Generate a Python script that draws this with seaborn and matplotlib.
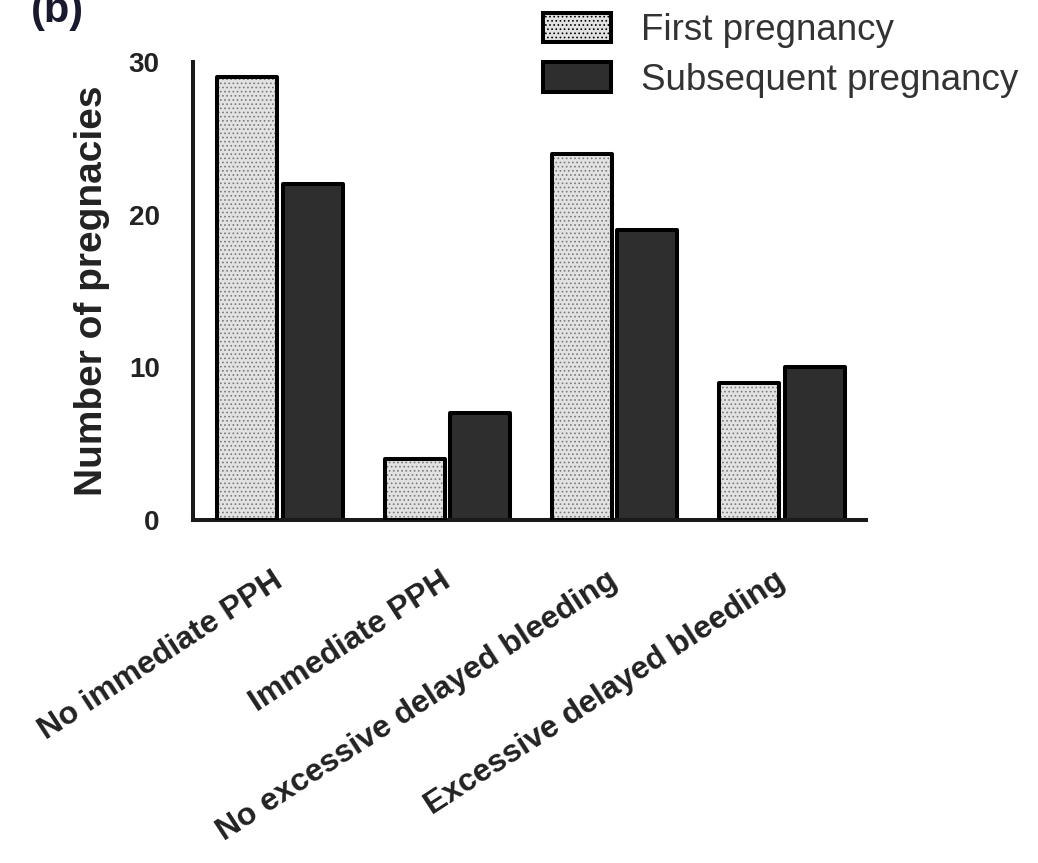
import matplotlib
matplotlib.use("Agg")
import matplotlib.pyplot as plt
import matplotlib.patches as mpatches
import matplotlib.transforms as mtransforms
import seaborn as sns
import pandas as pd

# Outcome categories and counts per pregnancy group
outcomes = [
    "No immediate PPH",
    "Immediate PPH",
    "No excessive delayed bleeding",
    "Excessive delayed bleeding",
]
first_pregnancy = [29, 4, 24, 9]
subsequent_pregnancy = [22, 7, 19, 10]
groups = ["First pregnancy", "Subsequent pregnancy"]
y_ticks = [0, 10, 20, 30]

df = pd.DataFrame({
    "outcome": outcomes * 2,
    "count": first_pregnancy + subsequent_pregnancy,
    "pregnancy": [groups[0]] * len(outcomes) + [groups[1]] * len(outcomes),
})

sns.set_style("white")
plt.rcParams["font.family"] = ["Liberation Sans", "DejaVu Sans"]
plt.rcParams["hatch.linewidth"] = 0.7

LIGHT = "#e2e2e2"
DARK = "#2e2e2e"
EDGE_LW = 2.9
HATCH_COLOR = "#7a7a7a"
has_hatchcolor = hasattr(mpatches.Patch, "set_hatchcolor")

fig = plt.figure(figsize=(10.38, 8.63), dpi=100)
ax = fig.add_axes([0.186, 0.3975, 0.648, 0.5307])

sns.barplot(
    data=df, x="outcome", y="count", hue="pregnancy",
    palette=[LIGHT, DARK], edgecolor="black", linewidth=EDGE_LW,
    width=0.78, gap=0.08, legend=False, ax=ax, zorder=2,
)

# Dotted texture on the first-pregnancy bars
for bar in ax.containers[0]:
    bar.set_joinstyle("round")
    if has_hatchcolor:
        bar.set_hatch("....")
        bar.set_hatchcolor(HATCH_COLOR)
    else:
        overlay = mpatches.Rectangle(
            bar.get_xy(), bar.get_width(), bar.get_height(),
            fill=False, hatch="....", edgecolor=HATCH_COLOR,
            linewidth=0, zorder=2.5,
        )
        ax.add_patch(overlay)
        bar.set_zorder(3)
        bar.set_facecolor("none")
        base = mpatches.Rectangle(
            bar.get_xy(), bar.get_width(), bar.get_height(),
            facecolor=LIGHT, linewidth=0, zorder=1.9,
        )
        ax.add_patch(base)
for bar in ax.containers[1]:
    bar.set_joinstyle("round")

ax.set_xlim(-0.52, 3.5)
ax.set_ylim(0, 30)
ax.set_yticks(y_ticks)
sns.despine(ax=ax)
for side in ("left", "bottom"):
    ax.spines[side].set_linewidth(EDGE_LW)
    ax.spines[side].set_color("#1a1a1a")

ax.tick_params(axis="y", direction="out", length=8, width=EDGE_LW,
               pad=16, labelsize=20, color="#1a1a1a")
ax.tick_params(axis="x", direction="out", length=8, width=2.2,
               pad=34, color="#1a1a1a")
for lab in ax.get_yticklabels():
    lab.set_fontweight("bold")
    lab.set_color("#222222")

ax.set_xticks(range(len(outcomes)))
ax.set_xticklabels(outcomes, rotation=33, ha="right", va="center",
                   rotation_mode="anchor", fontsize=23, fontweight="bold",
                   color="#222222")
shift = mtransforms.ScaledTranslation(0, 0, fig.dpi_scale_trans)
for lab in ax.get_xticklabels():
    lab.set_transform(lab.get_transform() + shift)

ax.set_xlabel("")
ax.set_ylabel("Number of pregnacies", fontsize=28, fontweight="bold",
              color="#222222")
ax.yaxis.set_label_coords(-0.123, 0.5)

# Legend in the upper right
hatch_kw = {"hatchcolor": HATCH_COLOR} if has_hatchcolor else {}
handles = [
    mpatches.Patch(facecolor=LIGHT, edgecolor="black", hatch="....",
                   linewidth=EDGE_LW, joinstyle="round", **hatch_kw),
    mpatches.Patch(facecolor=DARK, edgecolor="black", linewidth=EDGE_LW,
                   joinstyle="round"),
]
leg = fig.legend(
    handles, groups, loc="upper left",
    bbox_to_anchor=(543 / 1038, 1 - 13 / 863), bbox_transform=fig.transFigure,
    frameon=False, fontsize=26.5, handlelength=1.85, handleheight=0.85,
    handletextpad=0.82, labelspacing=0.38, borderpad=0, borderaxespad=0,
)
for t in leg.get_texts():
    t.set_color("#333333")

fig.text(0.03, 0.9745, "(b)", fontsize=30, fontweight="bold",
         color="#1a1a2e", va="baseline", ha="left")

fig.savefig("out.png", dpi=100)
